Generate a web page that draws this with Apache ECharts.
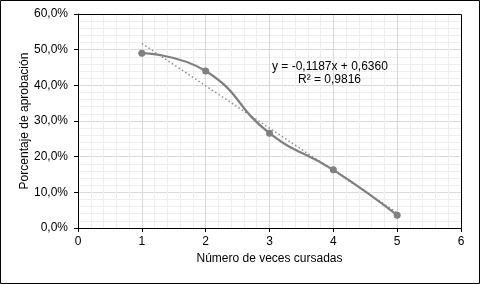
<!DOCTYPE html>
<html>
<head>
<meta charset="utf-8">
<script src="https://cdn.jsdelivr.net/npm/echarts@6/dist/echarts.min.js"></script>
<style>
html,body{margin:0;padding:0;background:#fff;}
#c{width:480px;height:284px;}
</style>
</head>
<body>
<div id="c"></div>
<script>
// Data
const vecesCursadas = [1, 2, 3, 4, 5];
const porcentajeAprobacion = [0.490, 0.440, 0.266, 0.163, 0.036];
// Trendline coefficients as printed on the chart
const trendSlope = -0.1187;
const trendIntercept = 0.6360;
const trendR2 = 0.9816;
const xAxisTitle = 'Número de veces cursadas';
const yAxisTitle = 'Porcentaje de aprobación';

const fmtComma = (v, d) => v.toFixed(d).replace('.', ',');
const trendX = [vecesCursadas[0], vecesCursadas[vecesCursadas.length - 1]];
const trendData = trendX.map(x => [x, trendSlope * x + trendIntercept]);
const eqText = 'y = ' + fmtComma(trendSlope, 4) + 'x + ' + fmtComma(trendIntercept, 4);
const r2Text = 'R² = ' + fmtComma(trendR2, 4);

const chart = echarts.init(document.getElementById('c'), null, {renderer: 'canvas'});
const font = 'Liberation Sans, Arial, sans-serif';
const G = {left: 78, right: 19, top: 14, bottom: 56};
chart.setOption({
  animation: false,
  backgroundColor: '#fff',
  grid: {left: G.left, right: G.right, top: G.top, bottom: G.bottom, show: false},
  xAxis: {
    type: 'value', min: 0, max: 6, interval: 1,
    name: xAxisTitle, nameLocation: 'middle', nameGap: 25, nameMoveOverlap: false,
    nameTextStyle: {fontFamily: font, fontSize: 12, color: '#000'},
    axisLine: {show: true, onZero: false, lineStyle: {color: '#000', width: 1}},
    axisTick: {show: true, inside: false, length: 4, lineStyle: {color: '#000'}},
    axisLabel: {fontFamily: font, fontSize: 12, color: '#000', margin: 8},
    splitLine: {show: true, lineStyle: {color: '#d9d9d9', width: 1}},
    minorTick: {show: true, splitNumber: 5, length: 0, lineStyle: {opacity: 0}},
    minorSplitLine: {show: true, lineStyle: {color: '#eeeeee', width: 1}}
  },
  yAxis: {
    type: 'value', min: 0, max: 0.6, interval: 0.1,
    name: yAxisTitle, nameLocation: 'middle', nameGap: 47, nameMoveOverlap: false,
    nameTextStyle: {fontFamily: font, fontSize: 12, color: '#000'},
    axisLine: {show: true, onZero: false, lineStyle: {color: '#000', width: 1}},
    axisTick: {show: true, inside: false, length: 4, lineStyle: {color: '#000'}},
    axisLabel: {fontFamily: font, fontSize: 12, color: '#000', margin: 10,
      formatter: v => fmtComma(v * 100, 1) + '%'},
    splitLine: {show: true, lineStyle: {color: '#d9d9d9', width: 1}},
    minorTick: {show: true, splitNumber: 5, length: 0, lineStyle: {opacity: 0}},
    minorSplitLine: {show: true, lineStyle: {color: '#eeeeee', width: 1}}
  },
  series: [
    {
      type: 'line', data: trendData, symbol: 'none', smooth: false,
      lineStyle: {color: '#8c8c8c', width: 1.5, type: [1.5, 2.5]}, z: 3
    },
    {
      type: 'line', data: vecesCursadas.map((x, i) => [x, porcentajeAprobacion[i]]),
      smooth: 0.5, symbol: 'circle', symbolSize: 7,
      itemStyle: {color: '#808080'},
      lineStyle: {color: '#808080', width: 2.25}, z: 4
    }
  ],
  graphic: [
    {type: 'rect', shape: {x: 0.5, y: 0.5, width: 479, height: 283},
     style: {fill: 'none', stroke: '#000', lineWidth: 1}, z: 100},
    {type: 'rect', shape: {x: G.left + 0.5, y: G.top + 0.5, width: 480 - G.left - G.right, height: 284 - G.top - G.bottom},
     style: {fill: 'none', stroke: '#000', lineWidth: 1}, z: 100, silent: true},
    {type: 'text', left: 272, top: 61,
     style: {text: eqText, font: '12px ' + font, fill: '#000'}, z: 100},
    {type: 'text', left: 298, top: 74,
     style: {text: r2Text, font: '12px ' + font, fill: '#000'}, z: 100}
  ]
});
</script>
</body>
</html>
